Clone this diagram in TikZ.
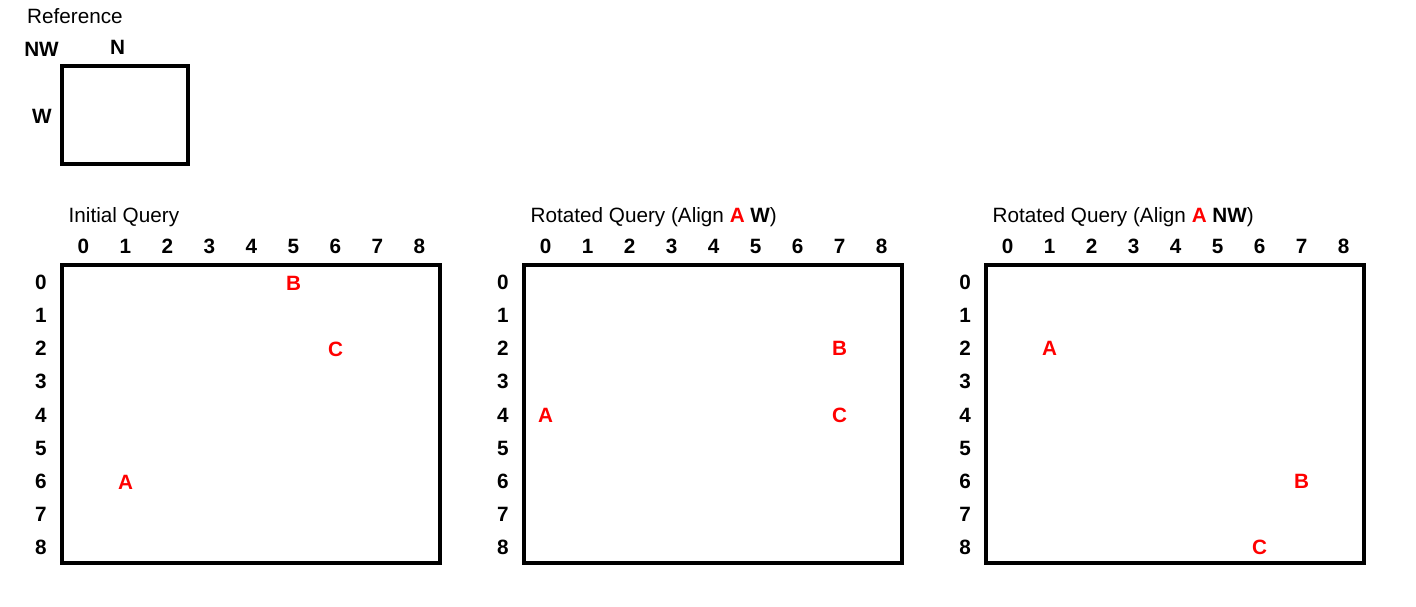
\documentclass[tikz,border=0pt]{standalone}
\usepackage{fontspec}
\setmainfont{Liberation Sans}
\begin{document}
\begin{tikzpicture}[x=1pt,y=-1pt,
  txt/.style={inner sep=0pt,font=\fontsize{20.7}{24}\selectfont},
  num/.style={txt,font=\fontsize{20.7}{24}\selectfont\bfseries,anchor=center},
  lbl/.style={num,text=red},
  frame/.style={draw=black,line width=4.5pt}]
\useasboundingbox (0,0) rectangle (1416,607);
% reference
\node[txt,anchor=base west] (reftitle) at (27,24) {Reference};
\node[num,anchor=base] (nw) at (41.5,56.5) {NW};
\node[num,anchor=base] (n) at (117.5,54.5) {N};
\node[num,anchor=base] (w) at (42,123.5) {W};
\draw[frame] (62,66) rectangle (188,164);
% panels
\foreach \p/\t in {0/{Initial Query},1/{Rotated Query (Align \textcolor{red}{\bfseries A} \textbf{W})},2/{Rotated Query (Align \textcolor{red}{\bfseries A} \textbf{NW})}}{
  \begin{scope}[xshift=\p*462]
    \node[txt,anchor=base west] (title\p) at (68.5,222.5) {\t};
    \foreach \i in {0,...,8}{
      \node[num] (col\p-\i) at (83.5+42*\i,246.5) {\i};
      \node[num] (row\p-\i) at (41,282.5+33.1*\i) {\i};
    }
    \draw[frame] (62,265) rectangle (440,563);
  \end{scope}
}
% letters
\node[lbl] (a0) at (125.5,482) {A};
\node[lbl] (b0) at (293.5,283) {B};
\node[lbl] (c0) at (335.5,349.5) {C};
\begin{scope}[xshift=462]
\node[lbl] (a1) at (83.5+42*0,282.5+33.1*4) {A};
\node[lbl] (b1) at (83.5+42*7,282.5+33.1*2) {B};
\node[lbl] (c1) at (83.5+42*7,282.5+33.1*4) {C};
\end{scope}
\begin{scope}[xshift=924]
\node[lbl] (a2) at (83.5+42*1,282.5+33.1*2) {A};
\node[lbl] (b2) at (83.5+42*7,282.5+33.1*6) {B};
\node[lbl] (c2) at (83.5+42*6,282.5+33.1*8) {C};
\end{scope}
\end{tikzpicture}
\end{document}
